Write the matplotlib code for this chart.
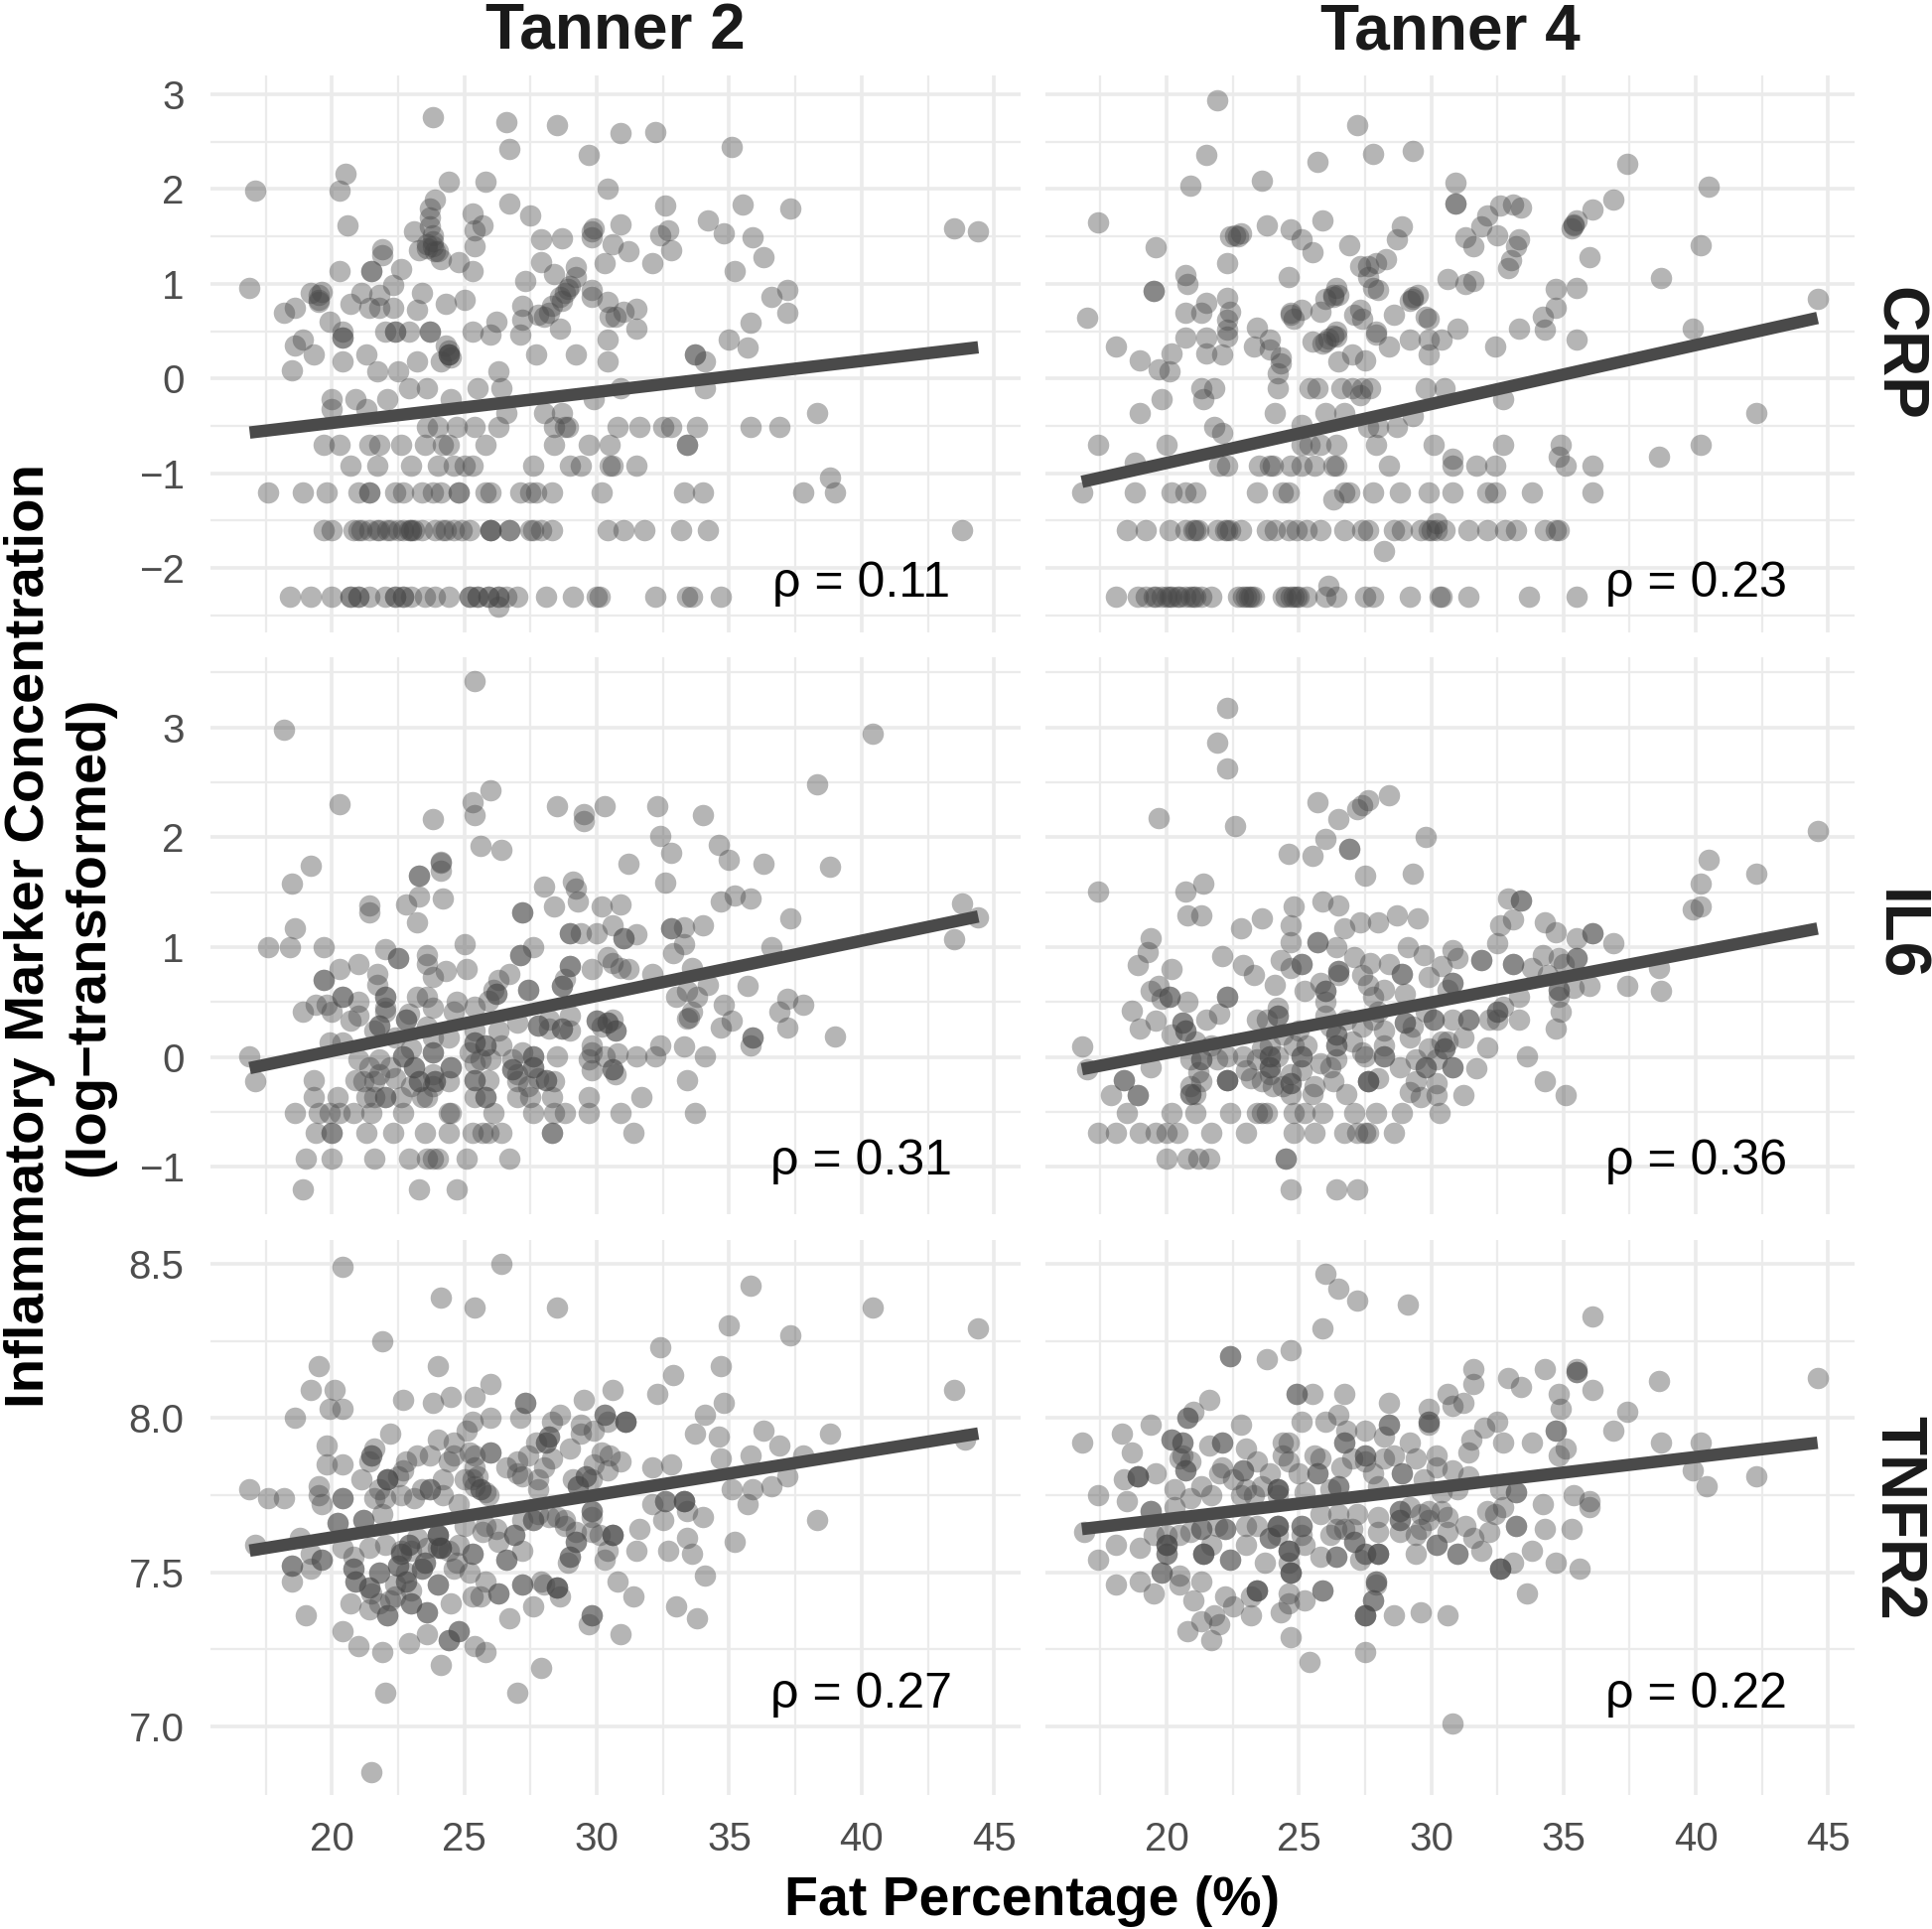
import matplotlib
matplotlib.use("Agg")
import matplotlib.pyplot as plt

plt.rcParams["font.family"] = ["Liberation Sans", "DejaVu Sans"]

# points sitting on the detection-limit style rows: level -> fat percentages
crp_t2_rows = {
    -2.3: [18.4, 19.2, 20.0, 20.7, 20.7, 21.0, 21.0, 21.4, 22.0, 22.4, 22.4, 22.7, 22.7, 23.0, 23.5, 23.9, 24.4, 25.2, 25.2, 25.5, 25.5, 25.9, 25.9, 26.3, 26.3, 26.6, 27.0, 28.1, 29.1, 30.0, 30.1, 32.2, 33.4, 33.6, 34.7],
    -1.6: [19.7, 20.0, 20.8, 21.0, 21.1, 21.4, 21.7, 21.8, 22.1, 22.2, 22.5, 22.7, 22.9, 23.0, 23.0, 23.1, 23.4, 23.9, 24.2, 24.3, 24.6, 24.9, 25.2, 26.0, 26.0, 26.0, 26.7, 26.7, 27.5, 27.6, 27.9, 28.3, 30.4, 31.0, 31.8, 33.2, 34.2, 43.8],
    -1.2: [17.6, 18.9, 19.8, 21.0, 21.4, 21.4, 22.4, 22.7, 23.4, 23.8, 24.1, 24.8, 24.8, 25.8, 26.0, 27.1, 27.5, 27.7, 28.3, 30.2, 33.3, 34.0, 37.8, 39.0],
    -0.92: [20.7, 21.7, 23.0, 24.0, 24.6, 25.0, 25.3, 27.6, 29.0, 29.4, 30.5, 30.6, 31.5],
    -0.7: [19.7, 20.3, 21.4, 21.8, 22.6, 23.5, 24.2, 24.4, 25.8, 28.4, 29.7, 30.5, 33.4, 33.4],
    -0.51: [23.6, 24.0, 24.7, 25.4, 26.3, 28.4, 28.8, 28.9, 30.8, 31.6, 32.5, 32.8, 33.8, 35.8, 36.9],
    -0.36: [26.6, 28.0, 28.7, 38.3],
    -0.22: [20.0, 20.9, 22.1, 24.5, 29.9],
    -0.1: [22.9, 23.6, 25.5, 26.4, 30.9, 34.1],
}
crp_t2_other = [
    (26.3, -2.41), (38.8, -1.04), (20.0, -0.32), (21.3, -0.32), (18.5, 0.09), (21.7, 0.08), (22.5, 0.08), (26.3, 0.08),
    (20.4, 0.18), (23.2, 0.18), (24.1, 0.18), (30.4, 0.18), (19.3, 0.25), (21.3, 0.25), (24.4, 0.25), (24.4, 0.25), (24.4, 0.25),
    (27.7, 0.25), (29.2, 0.25), (33.7, 0.25), (33.7, 0.25), (34.1, 0.18), (18.6, 0.35), (18.9, 0.41), (35.7, 0.33), (35.0, 0.41),
    (30.4, 0.41), (20.4, 0.43), (20.4, 0.43), (20.4, 0.5), (22.0, 0.5), (22.4, 0.5), (22.4, 0.5), (22.9, 0.5), (23.7, 0.5), (23.7, 0.5),
    (25.3, 0.5), (26.0, 0.46), (26.2, 0.6), (27.1, 0.46), (27.2, 0.62), (28.6, 0.53), (31.5, 0.53), (35.8, 0.59), (19.9, 0.6),
    (17.1, 1.98), (16.9, 0.96), (20.5, 2.16), (20.3, 1.98), (20.6, 1.62), (23.8, 2.76), (26.6, 2.71), (28.5, 2.68), (30.9, 2.59),
    (32.2, 2.60), (35.1, 2.45), (26.7, 2.42), (29.7, 2.36), (24.4, 2.08), (25.8, 2.08), (30.4, 2.0), (32.6, 1.83), (35.5, 1.84),
    (37.3, 1.80), (26.7, 1.85), (27.5, 1.72), (23.9, 1.89), (23.7, 1.80), (23.7, 1.70), (23.7, 1.61), (25.3, 1.74), (25.7, 1.62),
    (25.4, 1.57), (23.1, 1.55), (23.8, 1.51), (23.6, 1.42), (23.8, 1.40), (23.3, 1.36), (24.1, 1.26), (24.0, 1.34), (25.4, 1.40),
    (21.9, 1.37), (21.9, 1.30), (24.8, 1.23), (25.3, 1.13), (20.3, 1.13), (21.5, 1.13), (21.5, 1.13), (22.6, 1.16), (22.3, 0.99),
    (27.9, 1.47), (28.7, 1.48), (29.8, 1.55), (29.8, 1.49), (29.9, 1.59), (30.9, 1.63), (30.6, 1.42), (31.2, 1.34), (30.3, 1.22),
    (32.1, 1.22), (32.7, 1.57), (32.4, 1.51), (32.8, 1.36), (34.2, 1.67), (34.8, 1.53), (35.9, 1.49), (36.3, 1.28), (35.2, 1.13),
    (43.5, 1.59), (44.4, 1.55), (27.9, 1.23), (28.4, 1.10), (29.2, 1.18), (29.2, 1.07), (27.3, 1.03), (29.0, 0.98), (28.8, 0.90),
    (29.8, 0.94), (29.8, 0.86), (30.4, 0.81), (37.2, 0.94), (36.6, 0.86), (37.2, 0.70), (31.5, 0.74), (30.5, 0.65), (30.7, 0.65),
    (31.0, 0.71), (19.2, 0.90), (19.6, 0.92), (19.5, 0.83), (19.5, 0.81), (18.6, 0.75), (18.2, 0.69), (20.7, 0.79), (21.1, 0.90),
    (21.4, 0.75), (21.8, 0.88), (21.8, 0.75), (22.3, 0.75), (23.4, 0.90), (23.2, 0.73), (24.3, 0.79), (25.0, 0.83), (27.2, 0.77),
    (27.8, 0.67), (28.0, 0.65), (28.3, 0.77), (28.6, 0.86),
    (23.8, 1.45), (23.6, 1.38), (23.9, 1.35), (19.5, 0.88), (24.4, 0.3), (24.5, 0.22), (24.3, 0.35), (28.9, 0.95), (28.7, 0.82), (28.2, 0.7),
]

crp_t4_rows = {
    -2.3: [18.1, 18.9, 19.2, 19.5, 19.6, 19.8, 20.0, 20.1, 20.2, 20.4, 20.5, 20.7, 20.9, 21.0, 21.1, 21.3, 21.7, 22.7, 22.9, 23.0, 23.1, 23.2, 23.3, 24.4, 24.5, 24.7, 24.8, 24.9, 25.0, 25.3, 26.0, 26.4, 27.5, 27.8, 29.2, 30.3, 30.4, 31.4, 33.7, 35.5],
    -1.6: [18.5, 19.2, 20.1, 20.7, 21.0, 21.1, 21.2, 21.9, 22.2, 22.3, 22.4, 22.8, 23.8, 24.1, 24.6, 24.9, 25.3, 25.8, 26.7, 27.4, 27.6, 28.6, 28.9, 29.6, 29.9, 30.0, 30.2, 30.5, 31.4, 32.1, 32.8, 33.2, 34.3, 34.7, 34.8],
    -1.2: [16.8, 18.8, 20.2, 20.7, 21.1, 23.4, 24.4, 24.6, 26.7, 26.9, 27.8, 28.8, 29.9, 30.8, 32.1, 32.4, 33.8, 36.1],
    -0.92: [22.0, 22.3, 23.5, 23.9, 24.0, 24.7, 25.1, 25.6, 26.3, 26.4, 28.4, 30.8, 31.7, 32.4, 35.1, 36.1],
    -0.7: [17.4, 20.0, 25.1, 25.4, 25.8, 26.4, 27.9, 30.1, 32.7, 34.9, 40.2],
    -0.36: [19.0, 24.1, 26.0, 26.7, 42.3],
    -0.1: [21.3, 21.8, 24.2, 25.4, 25.7, 26.6, 27.0, 27.4, 27.7, 29.8, 30.5],
}
crp_t4_other = [
    (26.1, -2.19), (30.2, -1.53), (28.2, -1.82), (26.3, -1.28), (18.8, -0.89), (34.8, -0.83), (30.8, -0.85), (38.6, -0.82),
    (21.8, -0.51), (22.1, -0.57), (25.1, -0.49), (27.6, -0.51), (28.0, -0.51), (28.7, -0.51), (29.3, -0.39), (19.8, -0.22),
    (32.7, -0.22), (21.4, -0.22), (27.3, -0.18), (21.9, 2.94), (27.2, 2.68), (27.8, 2.37), (29.3, 2.40), (21.5, 2.36), (25.7, 2.29),
    (37.4, 2.27), (20.9, 2.04), (23.6, 2.09), (30.9, 2.07), (40.5, 2.03), (17.4, 1.65), (30.9, 1.85), (30.9, 1.85), (32.6, 1.83),
    (33.1, 1.84), (33.4, 1.81), (36.9, 1.89), (36.1, 1.78), (35.5, 1.67), (35.4, 1.63), (35.3, 1.59), (32.1, 1.72), (31.9, 1.61),
    (32.5, 1.51), (33.3, 1.47), (33.2, 1.40), (31.3, 1.49), (31.6, 1.40), (25.9, 1.67), (23.8, 1.62), (24.7, 1.58), (25.1, 1.47),
    (25.5, 1.33), (26.9, 1.41), (28.9, 1.61), (28.7, 1.47), (28.3, 1.26), (22.6, 1.51), (22.4, 1.50), (22.8, 1.53), (19.6, 1.39),
    (22.3, 1.22), (36.0, 1.28), (40.2, 1.41), (27.6, 1.19), (27.3, 1.19), (27.9, 1.22), (33.0, 1.25), (32.9, 1.17), (24.6, 1.07),
    (20.7, 1.09), (20.8, 1.0), (19.5, 0.93), (19.5, 0.93), (30.6, 1.05), (31.3, 1.0), (31.6, 1.03), (38.7, 1.06), (35.5, 0.96),
    (34.7, 0.95), (27.6, 1.07), (27.8, 0.96), (28.0, 0.94), (26.4, 0.96), (26.5, 0.88), (26.3, 0.86), (26.0, 0.84), (29.3, 0.86),
    (29.2, 0.82), (29.5, 0.88), (44.6, 0.84), (39.9, 0.53), (17.0, 0.64), (20.7, 0.69), (21.3, 0.69), (21.5, 0.8), (22.3, 0.85),
    (22.4, 0.71), (22.3, 0.62), (22.3, 0.52), (22.3, 0.44), (24.7, 0.67), (24.8, 0.63), (25.1, 0.73), (25.8, 0.71), (27.3, 0.73),
    (27.1, 0.67), (27.4, 0.63), (28.6, 0.67), (29.8, 0.65), (29.9, 0.63), (34.7, 0.75), (34.2, 0.65), (34.3, 0.52), (33.3, 0.53),
    (31.0, 0.53), (23.4, 0.54), (27.9, 0.5), (27.9, 0.46), (35.5, 0.41), (32.4, 0.34), (18.1, 0.34), (20.7, 0.43), (20.2, 0.27),
    (21.5, 0.43), (21.5, 0.27), (22.1, 0.25), (23.3, 0.34), (23.9, 0.41), (23.9, 0.31), (24.3, 0.22), (24.3, 0.16), (25.5, 0.39),
    (25.9, 0.37), (26.4, 0.44), (26.1, 0.42), (26.0, 0.39), (26.4, 0.5), (28.4, 0.34), (29.2, 0.41), (29.9, 0.41), (30.4, 0.41),
    (29.9, 0.25), (19.0, 0.19), (19.7, 0.1), (20.1, 0.08), (27.0, 0.25), (26.5, 0.18), (27.5, 0.19), (24.2, 0.06),
    (24.7, 0.7), (26.3, 0.88), (29.3, 0.84), (26.3, 0.45), (22.7, 1.5), (35.4, 1.62),
]

il6_t2_rows = {
    -0.36: [19.3, 20.2, 21.3, 21.6, 22.0, 22.0, 22.6, 23.4, 23.6, 25.4, 25.8, 25.8, 27.0, 27.5, 28.3, 29.7, 31.7],
    -0.51: [18.6, 19.5, 19.9, 20.3, 20.8, 21.5, 22.7, 24.4, 24.5, 26.1, 27.6, 28.4, 28.8, 29.7, 30.9, 33.7],
    -0.69: [19.4, 20.0, 20.0, 21.3, 22.3, 23.5, 24.4, 25.3, 25.7, 25.9, 26.4, 28.3, 28.3, 31.4],
    -0.92: [19.0, 20.0, 21.6, 22.9, 23.6, 23.8, 24.0, 25.1, 26.7],
    -1.2: [18.9, 23.3, 24.7],
}
il6_t2_other = [
    (25.4, 3.42), (18.2, 2.98), (40.4, 2.94), (38.3, 2.48), (26.0, 2.43), (20.3, 2.30), (25.3, 2.32), (25.4, 2.2), (28.5, 2.28),
    (29.5, 2.21), (29.5, 2.15), (30.3, 2.28), (32.3, 2.28), (34.0, 2.2), (23.8, 2.17), (32.4, 2.01), (34.6, 1.93), (25.6, 1.92),
    (26.4, 1.89), (32.8, 1.86), (35.0, 1.8), (36.3, 1.76), (38.8, 1.73), (31.2, 1.76), (19.2, 1.74), (24.1, 1.78), (24.1, 1.77),
    (24.1, 1.7), (23.3, 1.65), (23.3, 1.65), (18.5, 1.58), (32.6, 1.59), (28.0, 1.55), (29.1, 1.6), (29.2, 1.53), (29.3, 1.42),
    (23.3, 1.46), (22.8, 1.39), (24.2, 1.44), (21.4, 1.38), (21.4, 1.32), (28.4, 1.37), (30.2, 1.37), (30.9, 1.39), (34.7, 1.42),
    (35.2, 1.47), (35.8, 1.44), (27.2, 1.32), (27.2, 1.32), (23.2, 1.23), (37.3, 1.26), (34.0, 1.2), (43.8, 1.4), (44.4, 1.27),
    (43.5, 1.07), (18.6, 1.17), (29.0, 1.13), (29.0, 1.13), (29.4, 1.13), (30.0, 1.13), (30.6, 1.2), (31.0, 1.08), (31.0, 1.08),
    (31.5, 1.12), (32.8, 1.17), (32.8, 1.17), (33.3, 1.18), (33.3, 1.03), (32.9, 0.95), (17.6, 1.0), (18.4, 1.0), (19.7, 1.0),
    (25.0, 1.03), (36.6, 1.0), (22.0, 0.98), (22.5, 0.9), (22.5, 0.9), (23.6, 0.93), (23.6, 0.85), (27.1, 0.93), (27.1, 0.93),
    (27.6, 1.0), (21.0, 0.85), (20.3, 0.8), (25.1, 0.8), (24.3, 0.78), (23.8, 0.73), (21.7, 0.76), (21.7, 0.66), (29.0, 0.83),
    (29.0, 0.83), (30.4, 0.91), (30.6, 0.86), (30.9, 0.81), (31.2, 0.8), (29.8, 0.8), (19.7, 0.7), (19.7, 0.7), (32.1, 0.76),
    (33.6, 0.81), (26.7, 0.76), (26.3, 0.7), (26.1, 0.61), (27.4, 0.61), (27.4, 0.61), (28.7, 0.65), (28.7, 0.65), (28.8, 0.71),
    (35.7, 0.65), (37.2, 0.53), (37.8, 0.48), (36.9, 0.41), (18.9, 0.41), (19.4, 0.48), (19.8, 0.48), (20.4, 0.55), (20.4, 0.55),
    (21.0, 0.5), (22.0, 0.55), (22.0, 0.55), (22.0, 0.45), (23.2, 0.55), (23.6, 0.55), (23.8, 0.45), (24.7, 0.5), (25.4, 0.46),
    (25.9, 0.51), (26.2, 0.58), (33.0, 0.55), (33.4, 0.6), (33.8, 0.55), (34.2, 0.66), (34.8, 0.48), (33.6, 0.41), (33.5, 0.36),
    (33.4, 0.35), (35.1, 0.33), (34.7, 0.27), (37.2, 0.27), (39.0, 0.19), (35.9, 0.18), (35.9, 0.18), (35.8, 0.11), (20.0, 0.41),
    (20.7, 0.33), (21.8, 0.29), (21.8, 0.29), (22.9, 0.4), (22.8, 0.34), (22.8, 0.34), (23.6, 0.28), (27.8, 0.29), (27.8, 0.29),
    (28.2, 0.26), (28.7, 0.26), (28.7, 0.26), (29.0, 0.38), (30.0, 0.33), (30.0, 0.33), (30.4, 0.31), (30.4, 0.31), (30.7, 0.24),
    (30.7, 0.24), (26.3, 0.24), (27.0, 0.31), (19.9, 0.13), (20.4, 0.13), (22.4, 0.18), (23.8, 0.18), (24.4, 0.18), (25.4, 0.13),
    (25.4, 0.13), (25.8, 0.11), (25.8, 0.11), (16.9, 0.01), (17.1, -0.22), (21.0, -0.02), (21.8, -0.02), (22.7, 0.01), (22.7, 0.01),
    (23.8, 0.04), (23.8, 0.04), (25.2, 0.04), (26.4, 0.11), (27.2, 0.04), (29.8, 0.11), (29.8, 0.04), (29.7, -0.02), (30.3, 0.01),
    (30.8, 0.03), (31.5, 0.01), (32.2, 0.01), (32.4, 0.11), (33.3, 0.1), (34.1, 0.01), (28.5, 0.01), (27.6, 0.01), (27.6, 0.01),
    (26.8, -0.02), (23.1, -0.09), (23.1, -0.09), (24.5, -0.09), (24.5, -0.09), (26.8, -0.11), (26.8, -0.11), (27.6, -0.09), (27.6, -0.09),
    (29.8, -0.12), (30.6, -0.11), (30.6, -0.11), (30.7, -0.16), (19.3, -0.21), (20.9, -0.21), (22.4, -0.19), (23.3, -0.22), (23.3, -0.22),
    (23.9, -0.22), (23.9, -0.22), (25.4, -0.21), (25.4, -0.21), (25.9, -0.21), (27.0, -0.22), (28.1, -0.21), (28.1, -0.21), (33.4, -0.21),
    (21.8, -0.16), (21.4, -0.09), (22.2, -0.09), (23.0, 0.08), (23.8, -0.16), (24.4, -0.22), (23.8, -0.26), (23.0, -0.26), (21.6, -0.22),
    (21.2, -0.22), (25.4, 0.24), (25.6, -0.02), (26.0, -0.02), (25.4, -0.06), (27.0, -0.16), (27.8, -0.19), (28.4, -0.22), (27.4, -0.26),
    (29.0, 0.24), (30.2, 0.28), (30.6, 0.34), (28.2, 0.34), (22.0, 0.41), (21.6, 0.24), (21.0, 0.38), (26.2, 0.58), (24.6, 0.41),
]

il6_t4_rows = {
    -0.51: [18.5, 20.2, 21.1, 22.4, 23.4, 23.6, 23.8, 24.8, 25.2, 25.9, 27.1, 27.9, 28.9, 30.3],
    -0.69: [17.4, 18.1, 19.0, 19.6, 20.0, 20.4, 21.7, 23.0, 24.8, 25.6, 26.7, 27.2, 27.5, 27.6, 28.6],
    -0.92: [20.0, 20.8, 21.2, 21.6, 24.5, 24.5],
    -1.2: [24.7, 26.4, 27.2],
}
il6_t4_other = [
    (22.3, 3.18), (21.9, 2.86), (22.3, 2.63), (28.4, 2.38), (27.6, 2.34), (27.2, 2.26), (27.4, 2.29), (25.7, 2.32), (26.5, 2.17),
    (19.7, 2.18), (22.6, 2.1), (44.6, 2.06), (29.8, 2.0), (26.0, 1.99), (26.9, 1.9), (26.9, 1.9), (24.6, 1.85), (25.5, 1.83),
    (40.5, 1.8), (42.3, 1.67), (29.3, 1.67), (27.5, 1.65), (40.2, 1.58), (21.4, 1.58), (20.7, 1.51), (17.4, 1.51), (32.9, 1.44),
    (33.4, 1.43), (33.4, 1.43), (39.9, 1.34), (40.2, 1.37), (25.9, 1.42), (26.5, 1.38), (24.8, 1.37), (20.8, 1.29), (21.3, 1.29),
    (23.6, 1.26), (22.8, 1.17), (28.7, 1.29), (29.5, 1.26), (28.0, 1.23), (27.3, 1.23), (26.7, 1.17), (24.7, 1.2), (33.1, 1.25),
    (32.6, 1.2), (34.3, 1.23), (34.7, 1.14), (19.4, 1.08), (19.3, 0.96), (36.1, 1.13), (36.1, 1.13), (35.5, 1.08), (36.9, 1.04),
    (25.7, 1.05), (25.7, 1.05), (24.7, 1.05), (29.1, 1.0), (26.4, 1.0), (29.7, 0.93), (32.5, 1.04), (30.8, 0.97), (31.0, 0.9),
    (31.9, 0.88), (31.9, 0.88), (33.1, 0.85), (33.1, 0.85), (34.2, 0.93), (34.8, 0.9), (35.5, 0.9), (35.5, 0.9), (33.8, 0.81),
    (22.1, 0.92), (18.9, 0.84), (20.2, 0.8), (22.9, 0.84), (23.3, 0.75), (24.3, 0.88), (25.1, 0.85), (25.1, 0.85), (24.7, 0.81),
    (24.1, 0.66), (26.5, 0.78), (26.5, 0.78), (26.5, 0.75), (27.1, 0.91), (27.7, 0.86), (28.4, 0.85), (28.9, 0.76), (28.9, 0.76),
    (29.9, 0.73), (30.4, 0.83), (30.8, 0.68), (30.8, 0.68), (38.6, 0.81), (37.4, 0.65), (38.7, 0.6), (36.0, 0.65), (35.4, 0.63),
    (34.8, 0.61), (34.8, 0.61), (34.8, 0.55), (34.9, 0.41), (34.7, 0.26), (19.7, 0.65), (19.4, 0.6), (20.1, 0.55), (20.1, 0.55),
    (19.8, 0.53), (20.8, 0.5), (22.3, 0.55), (22.3, 0.55), (25.2, 0.6), (26.0, 0.6), (26.0, 0.6), (26.0, 0.5), (27.6, 0.66),
    (27.8, 0.55), (33.3, 0.55), (32.7, 0.46), (32.5, 0.41), (32.5, 0.41), (32.5, 0.34), (33.3, 0.34), (32.2, 0.34), (31.4, 0.34),
    (31.4, 0.34), (30.8, 0.34), (30.1, 0.34), (30.1, 0.34), (18.7, 0.42), (19.6, 0.33), (19.0, 0.26), (21.5, 0.34), (22.0, 0.4),
    (20.6, 0.31), (20.6, 0.31), (20.7, 0.24), (20.7, 0.24), (20.2, 0.21), (24.2, 0.45), (24.2, 0.38), (24.2, 0.38), (23.4, 0.34),
    (23.8, 0.34), (26.0, 0.38), (26.8, 0.34), (27.4, 0.28), (28.2, 0.24), (29.0, 0.31), (29.0, 0.31), (29.3, 0.28), (29.2, 0.18),
    (26.4, 0.21), (26.4, 0.21), (26.4, 0.11), (26.4, 0.11), (25.3, 0.11), (24.8, 0.11), (23.9, 0.11), (31.2, 0.18), (32.1, 0.09),
    (30.6, 0.14), (30.5, 0.08), (30.5, 0.08), (16.8, 0.1), (33.6, 0.01), (34.3, -0.22), (35.1, -0.35), (19.4, -0.09), (21.3, -0.02),
    (21.3, -0.02), (22.9, 0.01), (23.9, 0.01), (23.9, 0.01), (25.1, 0.01), (25.1, 0.01), (26.4, -0.02), (27.5, 0.01), (28.2, 0.01),
    (28.2, 0.01), (28.8, -0.09), (29.8, -0.09), (29.8, -0.09), (30.8, -0.09), (30.8, -0.09), (31.7, -0.1), (29.9, 0.08), (17.0, -0.11),
    (18.4, -0.21), (18.4, -0.21), (17.9, -0.35), (18.9, -0.35), (18.9, -0.35), (20.9, -0.34), (20.9, -0.34), (21.2, -0.14), (22.3, -0.21),
    (22.3, -0.21), (22.3, -0.21), (21.1, -0.34), (23.9, -0.09), (23.9, -0.09), (23.9, -0.16), (24.7, -0.16), (24.7, -0.24), (24.7, -0.24),
    (25.1, -0.12), (26.3, -0.22), (27.6, -0.22), (27.6, -0.22), (27.6, -0.22), (29.4, -0.22), (30.2, -0.24), (30.2, -0.35), (31.2, -0.35),
    (26.8, -0.34), (25.5, -0.34), (24.7, -0.34),
    (20.9, -0.02), (21.3, -0.22), (20.9, -0.26), (22.3, 0.01), (21.9, -0.02), (23.0, -0.12), (23.6, -0.22), (24.0, -0.26), (24.4, -0.26),
    (23.4, -0.02), (24.2, 0.01), (25.8, -0.06), (26.2, -0.09), (27.0, 0.14), (27.4, 0.04), (28.2, 0.11), (29.4, -0.02), (30.2, -0.02),
    (30.4, 0.14), (27.8, 0.34), (28.0, 0.41), (29.8, 0.41), (30.6, 0.61), (29.0, 0.58), (28.2, 0.61), (26.2, 0.28), (25.0, 0.24),
    (24.4, 0.21), (25.8, 0.68), (27.4, 0.75), (34.4, 0.75), (35.0, 0.85), (21.1, 0.14), (21.7, 0.11), (23.6, 0.08), (23.2, -0.19),
    (25.6, -0.26), (28.0, -0.19), (29.6, -0.36), (29.2, -0.32),
]

tnfr2_t2 = [
    (20.4, 8.49), (26.4, 8.50), (35.8, 8.43), (24.1, 8.39), (25.4, 8.36), (28.5, 8.36), (40.4, 8.36), (35.0, 8.3), (37.3, 8.27),
    (44.4, 8.29), (21.9, 8.25), (32.4, 8.23), (19.5, 8.17), (24.0, 8.17), (34.7, 8.17), (32.9, 8.14), (26.0, 8.11), (19.2, 8.09),
    (20.1, 8.09), (43.5, 8.09), (30.6, 8.09), (32.3, 8.08), (22.7, 8.06), (23.8, 8.05), (24.5, 8.07), (25.4, 8.07), (27.3, 8.05),
    (27.3, 8.05), (29.5, 8.06), (34.8, 8.05), (34.1, 8.01), (33.7, 7.95), (34.6, 7.94), (19.9, 8.03), (20.4, 8.03), (18.6, 8.0),
    (26.0, 8.0), (27.1, 8.0), (25.3, 7.99), (25.1, 7.96), (28.6, 8.01), (28.3, 7.99), (30.3, 8.01), (30.3, 8.01), (30.4, 7.99),
    (31.1, 7.99), (31.1, 7.99), (31.1, 7.99), (29.4, 7.98), (29.4, 7.95), (29.9, 7.96), (22.2, 7.95), (24.0, 7.93), (36.3, 7.96),
    (38.8, 7.95), (19.8, 7.91), (28.2, 7.94), (28.2, 7.94), (27.7, 7.92), (28.1, 7.92), (28.1, 7.92), (21.6, 7.9), (21.5, 7.88),
    (21.5, 7.88), (21.4, 7.86), (23.2, 7.88), (22.8, 7.86), (23.7, 7.88), (24.6, 7.92), (25.2, 7.89), (25.4, 7.88), (26.0, 7.89),
    (26.0, 7.89), (24.4, 7.86), (28.3, 7.87), (27.4, 7.88), (29.0, 7.9), (30.2, 7.89), (30.5, 7.88), (30.9, 7.86), (29.9, 7.85),
    (30.4, 7.83), (19.8, 7.85), (20.4, 7.85), (32.1, 7.84), (32.8, 7.85), (34.7, 7.87), (35.8, 7.88), (36.9, 7.91), (37.8, 7.88),
    (43.9, 7.93), (26.6, 7.84), (27.0, 7.82), (27.2, 7.81), (27.8, 7.8), (27.8, 7.77), (29.1, 7.8), (29.6, 7.81), (29.6, 7.81),
    (29.8, 7.8), (29.3, 7.78), (29.3, 7.78), (21.1, 7.8), (22.1, 7.8), (22.1, 7.8), (22.1, 7.8), (22.5, 7.81), (22.7, 7.83),
    (23.7, 7.77), (23.7, 7.77), (24.2, 7.75), (25.3, 7.8), (25.5, 7.81), (25.6, 7.77), (25.6, 7.77), (25.9, 7.75), (16.9, 7.77),
    (17.6, 7.74), (18.2, 7.74), (19.5, 7.78), (19.5, 7.75), (19.6, 7.72), (20.4, 7.74), (20.4, 7.74), (21.6, 7.74), (21.9, 7.69),
    (23.1, 7.74), (24.8, 7.72), (37.2, 7.81), (36.6, 7.78), (35.9, 7.77), (35.1, 7.77), (35.7, 7.72), (38.3, 7.67), (29.8, 7.7),
    (29.8, 7.7), (29.8, 7.68), (28.5, 7.68), (27.6, 7.67), (27.6, 7.67), (28.8, 7.67), (32.1, 7.72), (32.6, 7.73), (32.6, 7.73),
    (33.3, 7.73), (33.3, 7.73), (33.3, 7.73), (33.4, 7.7), (34.0, 7.68), (32.5, 7.67), (20.2, 7.66), (20.2, 7.66), (21.2, 7.67),
    (21.2, 7.67), (17.1, 7.59), (18.8, 7.61), (31.6, 7.64), (30.6, 7.62), (30.6, 7.62), (30.6, 7.62), (30.1, 7.62), (29.2, 7.6),
    (29.2, 7.6), (30.4, 7.57), (31.5, 7.57), (32.7, 7.57), (33.4, 7.61), (33.6, 7.56), (35.2, 7.6), (22.0, 7.59), (22.9, 7.59),
    (22.9, 7.59), (24.0, 7.62), (24.0, 7.62), (24.0, 7.62), (24.1, 7.58), (24.1, 7.58), (24.1, 7.58), (24.8, 7.59), (25.7, 7.63),
    (26.3, 7.6), (26.9, 7.62), (26.9, 7.62), (27.2, 7.57), (25.3, 7.56), (25.3, 7.56), (26.6, 7.54), (26.6, 7.54), (29.0, 7.55),
    (29.0, 7.55), (28.9, 7.53), (30.3, 7.54), (19.6, 7.54), (19.6, 7.54), (19.2, 7.51), (18.5, 7.52), (18.5, 7.52), (18.5, 7.47),
    (20.8, 7.55), (20.8, 7.51), (22.6, 7.56), (22.6, 7.56), (23.5, 7.53), (23.5, 7.53), (22.5, 7.52), (22.5, 7.52), (23.4, 7.51),
    (23.4, 7.51), (24.7, 7.53), (21.8, 7.5), (21.8, 7.5), (20.9, 7.47), (20.9, 7.47), (22.8, 7.47), (22.8, 7.47), (21.4, 7.45),
    (21.4, 7.45), (24.0, 7.46), (24.0, 7.46), (21.5, 7.43), (25.6, 7.42), (25.3, 7.42), (26.3, 7.43), (26.3, 7.43), (27.2, 7.46),
    (27.2, 7.46), (27.9, 7.47), (28.5, 7.45), (28.5, 7.45), (28.5, 7.45), (28.6, 7.42), (30.8, 7.47), (31.4, 7.42), (34.1, 7.49),
    (20.7, 7.4), (22.2, 7.41), (23.0, 7.4), (23.0, 7.4), (21.4, 7.38), (22.1, 7.36), (22.1, 7.36), (23.6, 7.37), (23.6, 7.37),
    (24.5, 7.4), (27.6, 7.39), (26.7, 7.35), (29.8, 7.36), (29.8, 7.36), (29.7, 7.33), (30.9, 7.3), (33.0, 7.39), (33.8, 7.35),
    (19.0, 7.36), (20.4, 7.31), (21.0, 7.26), (21.9, 7.24), (22.9, 7.27), (23.6, 7.3), (24.8, 7.31), (24.8, 7.31), (24.4, 7.28),
    (24.4, 7.28), (25.4, 7.26), (25.8, 7.24), (24.1, 7.2), (27.9, 7.19), (27.0, 7.11), (22.0, 7.11), (21.5, 6.85),
    (24.0, 7.58), (23.0, 7.57), (22.6, 7.57), (22.8, 7.5), (22.4, 7.46), (23.6, 7.58), (24.4, 7.57), (23.2, 7.61), (25.4, 7.78),
    (25.8, 7.76), (25.0, 7.8), (27.8, 7.69), (27.2, 7.67), (28.2, 7.68), (25.0, 7.65), (25.8, 7.65), (26.2, 7.64), (21.8, 7.77),
    (22.0, 7.74), (22.6, 7.75), (23.4, 7.77), (24.2, 7.8), (25.4, 7.84), (24.6, 7.88), (27.0, 7.86), (28.0, 7.84), (28.8, 7.65),
    (29.2, 7.63), (29.8, 7.63), (28.0, 7.46), (25.8, 7.47), (24.6, 7.51), (25.2, 7.5), (22.4, 7.42), (23.0, 7.44), (21.8, 7.4),
    (20.8, 7.51), (19.2, 7.56), (20.4, 7.58), (21.4, 7.58),
]

tnfr2_t4 = [
    (26.0, 8.47), (26.5, 8.42), (27.2, 8.38), (29.1, 8.37), (36.1, 8.33), (25.9, 8.29), (24.7, 8.22), (22.4, 8.2), (22.4, 8.2),
    (23.8, 8.19), (31.6, 8.16), (34.3, 8.16), (35.5, 8.16), (35.5, 8.15), (35.5, 8.15), (38.6, 8.12), (44.6, 8.13), (32.9, 8.13),
    (33.4, 8.1), (34.8, 8.08), (36.1, 8.09), (24.9, 8.08), (24.9, 8.08), (25.5, 8.08), (26.7, 8.08), (30.6, 8.08), (31.6, 8.11),
    (21.6, 8.06), (28.4, 8.05), (26.5, 8.01), (31.2, 8.05), (30.8, 8.04), (21.0, 8.02), (20.8, 8.0), (20.8, 8.0), (22.8, 7.98),
    (19.4, 7.98), (25.1, 7.99), (29.9, 8.03), (29.9, 7.99), (29.9, 7.99), (34.9, 8.03), (37.4, 8.02), (16.8, 7.92), (18.3, 7.95),
    (20.2, 7.93), (20.2, 7.93), (20.6, 7.92), (20.6, 7.92), (20.6, 7.88), (21.6, 7.91), (22.1, 7.92), (22.1, 7.92), (23.0, 7.9),
    (24.4, 7.92), (24.6, 7.92), (24.4, 7.88), (26.0, 7.99), (26.7, 7.92), (26.7, 7.92), (26.8, 7.96), (27.5, 7.96), (28.4, 7.98),
    (28.4, 7.98), (28.2, 7.94), (29.2, 7.92), (25.6, 7.88), (27.5, 7.88), (27.5, 7.88), (29.9, 7.98), (34.7, 7.96), (34.7, 7.96),
    (35.1, 7.9), (34.8, 7.88), (32.0, 7.97), (32.5, 7.99), (31.5, 7.93), (32.7, 7.92), (33.8, 7.92), (36.9, 7.96), (38.7, 7.92),
    (40.2, 7.92), (18.7, 7.89), (18.9, 7.81), (18.9, 7.81), (18.9, 7.81), (18.4, 7.8), (19.6, 7.82), (20.7, 7.83), (20.7, 7.83),
    (20.3, 7.77), (21.3, 7.78), (22.0, 7.82), (22.9, 7.83), (22.9, 7.83), (23.4, 7.86), (23.9, 7.82), (24.2, 7.77), (24.2, 7.77),
    (24.2, 7.77), (25.7, 7.82), (25.7, 7.82), (26.5, 7.78), (26.5, 7.78), (27.5, 7.86), (28.9, 7.82), (28.9, 7.82), (28.6, 7.88),
    (30.2, 7.88), (30.8, 7.83), (31.4, 7.89), (39.9, 7.83), (40.4, 7.78), (42.3, 7.81), (17.4, 7.75), (18.5, 7.73), (19.4, 7.7),
    (19.4, 7.7), (20.3, 7.71), (20.9, 7.74), (21.7, 7.75), (22.8, 7.75), (23.3, 7.75), (25.2, 7.76), (26.2, 7.77), (28.0, 7.78),
    (29.7, 7.8), (30.4, 7.76), (31.0, 7.77), (33.2, 7.76), (33.2, 7.76), (35.4, 7.75), (36.0, 7.73), (36.0, 7.71), (34.2, 7.72),
    (32.7, 7.71), (32.1, 7.7), (32.4, 7.69), (28.8, 7.7), (28.8, 7.7), (28.8, 7.67), (28.8, 7.67), (29.2, 7.71), (29.9, 7.7),
    (30.4, 7.7), (29.9, 7.67), (30.6, 7.68), (31.3, 7.65), (33.2, 7.65), (33.2, 7.65), (34.3, 7.64), (35.3, 7.64), (32.2, 7.63),
    (16.9, 7.63), (18.1, 7.59), (19.0, 7.58), (20.0, 7.59), (20.0, 7.59), (20.0, 7.59), (20.0, 7.56), (20.0, 7.56), (20.9, 7.63),
    (21.3, 7.64), (21.3, 7.64), (22.2, 7.64), (22.2, 7.64), (23.0, 7.59), (21.4, 7.56), (21.4, 7.56), (21.4, 7.56), (22.4, 7.54),
    (22.4, 7.54), (24.2, 7.65), (24.2, 7.65), (24.2, 7.65), (25.1, 7.65), (25.1, 7.65), (23.9, 7.61), (23.9, 7.61), (25.1, 7.62),
    (24.6, 7.57), (24.6, 7.57), (24.6, 7.57), (26.4, 7.64), (26.7, 7.64), (27.1, 7.6), (27.1, 7.6), (28.8, 7.63), (29.6, 7.64),
    (30.2, 7.59), (30.2, 7.59), (31.0, 7.56), (31.0, 7.56), (31.9, 7.57), (29.4, 7.56), (28.0, 7.56), (28.0, 7.56), (28.0, 7.56),
    (27.5, 7.56), (27.5, 7.56), (26.4, 7.55), (26.4, 7.55), (25.8, 7.55), (27.3, 7.54), (17.4, 7.54), (18.1, 7.46), (19.0, 7.47),
    (19.5, 7.43), (19.8, 7.5), (19.8, 7.5), (20.5, 7.49), (20.5, 7.46), (21.3, 7.47), (21.0, 7.41), (23.7, 7.53), (24.7, 7.5),
    (24.7, 7.5), (24.7, 7.5), (27.9, 7.47), (27.9, 7.47), (27.9, 7.46), (32.6, 7.51), (32.6, 7.51), (32.6, 7.51), (33.1, 7.53),
    (33.8, 7.57), (34.7, 7.53), (35.6, 7.51), (33.6, 7.43), (23.4, 7.44), (23.4, 7.44), (23.4, 7.44), (23.2, 7.42), (22.2, 7.42),
    (22.5, 7.39), (24.6, 7.43), (24.6, 7.4), (25.2, 7.41), (25.9, 7.44), (25.9, 7.44), (27.8, 7.41), (27.8, 7.41), (23.2, 7.36),
    (24.3, 7.37), (21.8, 7.36), (21.3, 7.34), (22.0, 7.33), (20.8, 7.31), (21.7, 7.28), (24.7, 7.29), (27.5, 7.36), (27.5, 7.36),
    (27.5, 7.36), (28.6, 7.36), (29.6, 7.37), (30.6, 7.36), (27.5, 7.24), (25.4, 7.21), (30.8, 7.01),
    (24.2, 7.75), (24.2, 7.62), (25.2, 7.59), (24.6, 7.53), (21.7, 7.59), (20.5, 7.62), (20.0, 7.62), (19.5, 7.62), (21.9, 7.65),
    (23.0, 7.65), (23.4, 7.65), (25.8, 7.69), (26.5, 7.69), (27.2, 7.69), (28.0, 7.68), (29.6, 7.69), (26.2, 7.62), (27.0, 7.64),
    (28.0, 7.63), (29.4, 7.62), (30.6, 7.63), (31.6, 7.61), (20.5, 7.87), (20.9, 7.86), (22.1, 7.84), (22.5, 7.8), (25.0, 7.82),
    (25.8, 7.87), (27.0, 7.87), (27.8, 7.82), (29.4, 7.87), (30.2, 7.84), (31.4, 7.81), (32.6, 7.77), (23.0, 7.77), (23.6, 7.78),
    (26.6, 7.84), (28.2, 7.87), (24.6, 7.86),
]

# fitted line ends: (x0, y0, x1, y1)
fits = {
    "crp_t2": (16.9, -0.57, 44.4, 0.33),
    "crp_t4": (16.8, -1.09, 44.6, 0.64),
    "il6_t2": (16.9, -0.10, 44.4, 1.28),
    "il6_t4": (16.8, -0.11, 44.6, 1.17),
    "tnfr2_t2": (16.9, 7.57, 44.4, 7.95),
    "tnfr2_t4": (16.8, 7.64, 44.6, 7.92),
}
rhos = {"crp_t2": 0.11, "crp_t4": 0.23, "il6_t2": 0.31, "il6_t4": 0.36, "tnfr2_t2": 0.27, "tnfr2_t4": 0.22}

markers = ["CRP", "IL6", "TNFR2"]
stages = ["Tanner 2", "Tanner 4"]
x_major = [20, 25, 30, 35, 40, 45]
x_minor = [17.5, 22.5, 27.5, 32.5, 37.5, 42.5]
y_major = {"CRP": [-2, -1, 0, 1, 2, 3], "IL6": [-1, 0, 1, 2, 3], "TNFR2": [7.0, 7.5, 8.0, 8.5]}
y_minor = {
    "CRP": [-2.5, -1.5, -0.5, 0.5, 1.5, 2.5],
    "IL6": [-0.5, 0.5, 1.5, 2.5, 3.5],
    "TNFR2": [7.25, 7.75, 8.25],
}
y_labels = {
    "CRP": ["\u22122", "\u22121", "0", "1", "2", "3"],
    "IL6": ["\u22121", "0", "1", "2", "3"],
    "TNFR2": ["7.0", "7.5", "8.0", "8.5"],
}
y_limits = {"CRP": (-2.68, 3.2), "IL6": (-1.43, 3.64), "TNFR2": (6.777, 8.578)}
rho_y = {"CRP": -2.17, "IL6": -0.95, "TNFR2": 7.103}


def from_rows(rows, other):
    pts = list(other)
    for level, xs in rows.items():
        pts += [(x, level) for x in xs]
    return pts


points = {
    "crp_t2": from_rows(crp_t2_rows, crp_t2_other),
    "crp_t4": from_rows(crp_t4_rows, crp_t4_other),
    "il6_t2": from_rows(il6_t2_rows, il6_t2_other),
    "il6_t4": from_rows(il6_t4_rows, il6_t4_other),
    "tnfr2_t2": tnfr2_t2,
    "tnfr2_t4": tnfr2_t4,
}

W, H = 1946, 1943
fig = plt.figure(figsize=(W / 100, H / 100), dpi=100)
col_px = [(212, 1028), (1053, 1868)]
row_px = [(76, 637), (662, 1223), (1249, 1808)]

for r, marker in enumerate(markers):
    for c, stage in enumerate(stages):
        x0, x1 = col_px[c]
        y0, y1 = row_px[r]
        ax = fig.add_axes([x0 / W, 1 - y1 / H, (x1 - x0) / W, (y1 - y0) / H])
        key = f"{marker.lower()}_t{2 if c == 0 else 4}"

        ax.set_xlim(15.42, 46.0)
        ax.set_ylim(*y_limits[marker])
        ax.set_xticks(x_major)
        ax.set_xticks(x_minor, minor=True)
        ax.set_yticks(y_major[marker])
        ax.set_yticks(y_minor[marker], minor=True)
        ax.set_yticklabels(y_labels[marker] if c == 0 else [])
        ax.set_xticklabels(x_major if r == 2 else [])
        ax.tick_params(which="both", length=0)
        ax.tick_params(axis="x", which="major", pad=19, labelsize=29, labelcolor="#4d4d4d")
        ax.tick_params(axis="y", which="major", pad=19, labelsize=29, labelcolor="#4d4d4d")
        ax.grid(which="major", color="#ebebeb", linewidth=2.6)
        ax.grid(which="minor", color="#ebebeb", linewidth=1.6)
        ax.set_axisbelow(True)
        for spine in ax.spines.values():
            spine.set_visible(False)

        xs, ys = zip(*points[key])
        ax.scatter(xs, ys, s=240, color="#464646", alpha=0.4, linewidths=0, zorder=2)
        fx0, fy0, fx1, fy1 = fits[key]
        ax.plot([fx0, fx1], [fy0, fy1], color="#4a4a4a", linewidth=9, solid_capstyle="butt", zorder=3)
        ax.text(40, rho_y[marker], f"\u03c1 = {rhos[key]:.2f}", fontsize=36, ha="center", va="center", color="black", zorder=4)

        if r == 0:
            ax.text(0.5, 1 + 44 / (y1 - y0), stage, transform=ax.transAxes, fontsize=46, fontweight="bold",
                    ha="center", va="center", color="#1a1a1a")
        if c == 1:
            ax.text(1 + 43 / (x1 - x0), 0.5, marker, transform=ax.transAxes, fontsize=46, fontweight="bold",
                    ha="center", va="center", rotation=-90, color="#1a1a1a")

fig.text(1040 / W, 1 - 1915 / H, "Fat Percentage (%)", fontsize=40, fontweight="bold", ha="center", va="center")
fig.text(30 / W, 1 - 943 / H, "Inflammatory Marker Concentration", fontsize=40.5, fontweight="bold",
         ha="center", va="center", rotation=90)
fig.text(90 / W, 1 - 943 / H, "(log\u2212transformed)", fontsize=40.5, fontweight="bold",
         ha="center", va="center", rotation=90)

fig.savefig("out.png", dpi=100, facecolor="white")
